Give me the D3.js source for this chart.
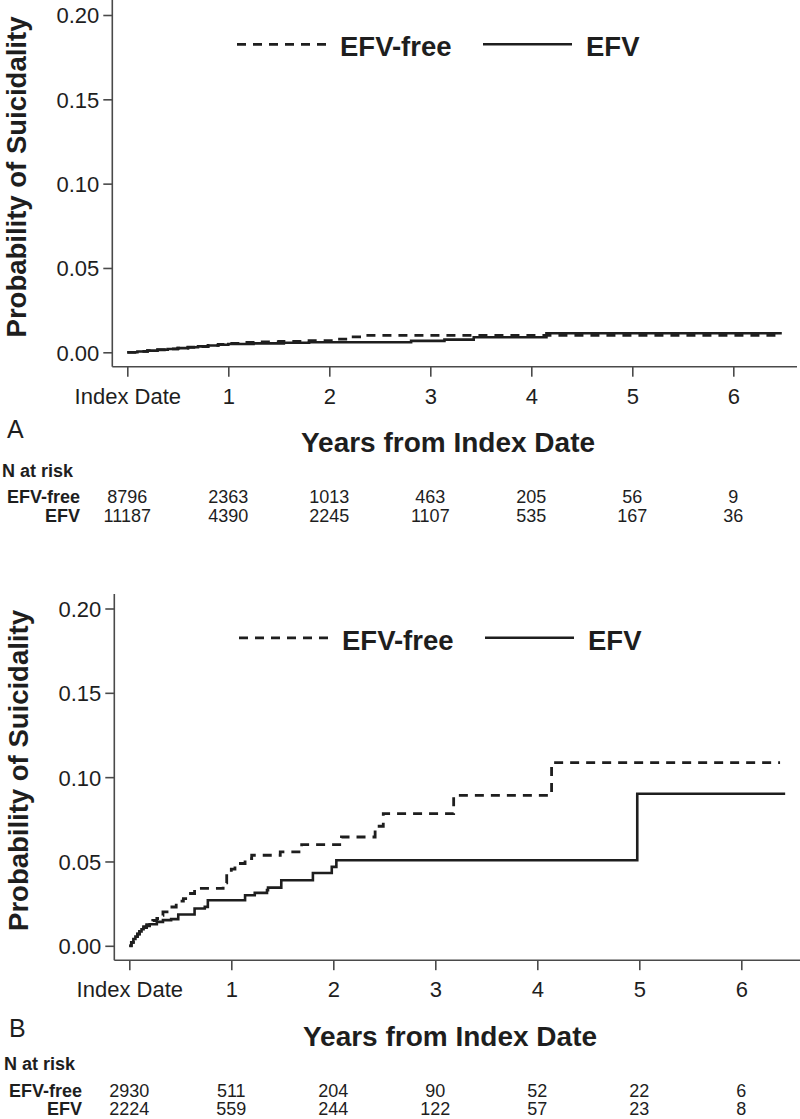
<!DOCTYPE html>
<html>
<head>
<meta charset="utf-8">
<script src="https://cdn.jsdelivr.net/npm/d3@7/dist/d3.min.js"></script>
<style>
  html, body { margin: 0; padding: 0; background: #fff; }
  svg { display: block; font-family: "Liberation Sans", Arial, sans-serif; }
</style>
</head>
<body>
<svg id="chart" width="800" height="1119"></svg>
<script>
// ---------------- data ----------------
const seriesNames = ["EFV-free", "EFV"];
const xTickValues = [0, 1, 2, 3, 4, 5, 6];
const xTickLabels = ["Index Date", "1", "2", "3", "4", "5", "6"];
const yTickValues = [0, 0.05, 0.10, 0.15, 0.20];

// Panel A (Kaplan–Meier cumulative probability, step curves)
const aFreeTime = [0, 0.1, 0.2, 0.3, 0.4, 0.5, 0.6, 0.7, 0.8, 0.9, 1.0, 1.15, 1.3, 1.5, 1.75, 2.05, 2.2, 2.3, 6.48];
const aFreeProb = [0, 0.0005, 0.001, 0.0015, 0.002, 0.0025, 0.003, 0.0034, 0.0041, 0.0047, 0.0053, 0.0058, 0.0062, 0.0065, 0.0069, 0.0078, 0.0092, 0.0100, 0.0100];
const aEfvTime  = [0, 0.1, 0.2, 0.3, 0.4, 0.5, 0.6, 0.7, 0.8, 0.9, 1.0, 1.25, 1.55, 1.8, 2.81, 3.14, 3.43, 4.15, 6.48];
const aEfvProb  = [0, 0.0005, 0.001, 0.0015, 0.002, 0.0025, 0.003, 0.0035, 0.004, 0.0045, 0.0049, 0.0053, 0.0057, 0.006, 0.0068, 0.0075, 0.0089, 0.0113, 0.0113];
const aRiskFree = [8796, 2363, 1013, 463, 205, 56, 9];
const aRiskEfv  = [11187, 4390, 2245, 1107, 535, 167, 36];

// Panel B
const bFreeTime = [0, 0.02, 0.04, 0.06, 0.08, 0.1, 0.12, 0.14, 0.17, 0.2, 0.23, 0.27, 0.3, 0.33, 0.37, 0.4, 0.46, 0.5, 0.53, 0.57, 0.6, 0.64, 0.92, 0.955, 1.0, 1.036, 1.135, 1.2, 1.48, 1.69, 2.08, 2.41, 2.49, 3.18, 4.14, 6.38];
const bFreeProb = [0, 0.002, 0.004, 0.0055, 0.007, 0.0085, 0.0100, 0.0113, 0.0125, 0.014, 0.015, 0.0162, 0.018, 0.0201, 0.0215, 0.023, 0.025, 0.0265, 0.028, 0.0295, 0.031, 0.034, 0.0373, 0.0428, 0.0455, 0.0488, 0.0517, 0.0537, 0.0557, 0.0600, 0.0645, 0.0709, 0.0784, 0.0892, 0.1086, 0.1086];
const bEfvTime  = [0, 0.02, 0.04, 0.06, 0.08, 0.1, 0.12, 0.14, 0.17, 0.2, 0.27, 0.33, 0.41, 0.48, 0.64, 0.74, 0.77, 1.135, 1.23, 1.35, 1.36, 1.49, 1.80, 1.985, 2.03, 4.98, 6.43];
const bEfvProb  = [0, 0.002, 0.004, 0.0055, 0.007, 0.0085, 0.0098, 0.0108, 0.0118, 0.0128, 0.0142, 0.0152, 0.0158, 0.0186, 0.0221, 0.0231, 0.027, 0.030, 0.0314, 0.033, 0.0345, 0.0389, 0.0432, 0.0468, 0.0507, 0.0902, 0.0902];
const bRiskFree = [2930, 511, 204, 90, 52, 22, 6];
const bRiskEfv  = [2224, 559, 244, 122, 57, 23, 8];

// ---------------- drawing ----------------
const svg = d3.select("#chart");
svg.append("rect").attr("width", 800).attr("height", 1119).attr("fill", "#fff");

const ink = "#1e1e1e";
const axisCol = "#4a4a4a";

function toPts(ts, vs) { return ts.map((t, i) => ({ t: t, v: vs[i] })); }

function drawPanel(cfg) {
  const g = svg.append("g").attr("transform", `translate(${cfg.dx},${cfg.dy})`);
  const x = d3.scaleLinear().domain([0, 6]).range([127.3, 733.3 + cfg.xStretch]);
  const y = d3.scaleLinear().domain([0, 0.20]).range([352.3, 15]);
  const axisY = 366.7, axisX = 112.3;

  // axes lines
  g.append("line").attr("x1", axisX).attr("x2", axisX).attr("y1", cfg.yTop).attr("y2", axisY)
    .attr("stroke", axisCol).attr("stroke-width", 1.6);
  g.append("line").attr("x1", axisX).attr("x2", cfg.xEnd).attr("y1", axisY).attr("y2", axisY)
    .attr("stroke", axisCol).attr("stroke-width", 1.6);

  // y axis
  const yAxis = d3.axisLeft(y).tickValues(yTickValues).tickFormat(d3.format(".2f")).tickSize(9).tickPadding(4);
  const gy = g.append("g").attr("transform", `translate(${axisX},0)`).call(yAxis);
  gy.select(".domain").remove();
  gy.selectAll(".tick line").attr("stroke", axisCol).attr("stroke-width", 1.6);
  gy.selectAll(".tick text").attr("fill", ink).style("font-size", "22px").attr("dy", "0.36em");

  // x axis
  const xAxis = d3.axisBottom(x).tickValues(xTickValues).tickFormat((d, i) => xTickLabels[i]).tickSize(10).tickPadding(8);
  const gx = g.append("g").attr("transform", `translate(0,${axisY})`).call(xAxis);
  gx.select(".domain").remove();
  gx.selectAll(".tick line").attr("stroke", axisCol).attr("stroke-width", 1.6);
  gx.selectAll(".tick text").attr("fill", ink).style("font-size", "22px").attr("y", 37.3).attr("dy", 0);

  // curves
  const line = d3.line().x(d => x(d.t)).y(d => y(d.v)).curve(d3.curveStepAfter);
  g.append("path").datum(toPts(cfg.freeT, cfg.freeV)).attr("d", line)
    .attr("fill", "none").attr("stroke", ink).attr("stroke-width", 2.8).attr("stroke-dasharray", "9,7");
  g.append("path").datum(toPts(cfg.efvT, cfg.efvV)).attr("d", line)
    .attr("fill", "none").attr("stroke", ink).attr("stroke-width", 2.6);

  // legend
  const ly = 44.3;
  g.append("line").attr("x1", 237).attr("x2", 326).attr("y1", ly).attr("y2", ly)
    .attr("stroke", ink).attr("stroke-width", 2.8).attr("stroke-dasharray", "9,7");
  g.append("text").attr("x", 340).attr("y", 56).text(seriesNames[0])
    .attr("fill", ink).style("font-size", "27.5px").style("font-weight", "bold");
  g.append("line").attr("x1", 483).attr("x2", 572).attr("y1", ly).attr("y2", ly)
    .attr("stroke", ink).attr("stroke-width", 2.6);
  g.append("text").attr("x", 586).attr("y", 56).text(seriesNames[1])
    .attr("fill", ink).style("font-size", "27.5px").style("font-weight", "bold");

  // y title
  g.append("text").attr("transform", "translate(25.5,177) rotate(-90)").attr("text-anchor", "middle")
    .text("Probability of Suicidality").attr("fill", ink).style("font-size", "27.5px").style("font-weight", "bold");

  // panel letter
  g.append("text").attr("x", 7).attr("y", cfg.letterY).text(cfg.letter)
    .attr("fill", ink).style("font-size", "25px");

  // x title
  g.append("text").attr("x", 448).attr("y", 452).attr("text-anchor", "middle").text("Years from Index Date")
    .attr("fill", ink).style("font-size", "28px").style("font-weight", "bold");

  // risk table
  g.append("text").attr("x", 2).attr("y", 476.7).text("N at risk")
    .attr("fill", ink).style("font-size", "18px").style("font-weight", "bold");
  const rows = [{ name: seriesNames[0], vals: cfg.riskFree, yy: 503.3 }, { name: seriesNames[1], vals: cfg.riskEfv, yy: 521.7 }];
  rows.forEach(r => {
    g.append("text").attr("x", 80).attr("y", r.yy).attr("text-anchor", "end").text(r.name)
      .attr("fill", ink).style("font-size", "18px").style("font-weight", "bold");
    g.selectAll(null).data(r.vals).enter().append("text")
      .attr("x", (d, i) => x(xTickValues[i])).attr("y", r.yy).attr("text-anchor", "middle")
      .text(d => d).attr("fill", ink).style("font-size", "18px");
  });
}

drawPanel({ dx: 0, dy: 0, xStretch: 0, yTop: -5, xEnd: 797, letter: "A", letterY: 437.7,
  freeT: aFreeTime, freeV: aFreeProb, efvT: aEfvTime, efvV: aEfvProb, riskFree: aRiskFree, riskEfv: aRiskEfv });
drawPanel({ dx: 2, dy: 593.5, xStretch: 6, yTop: 0.5, xEnd: 800, letter: "B", letterY: 443,
  freeT: bFreeTime, freeV: bFreeProb, efvT: bEfvTime, efvV: bEfvProb, riskFree: bRiskFree, riskEfv: bRiskEfv });
</script>
</body>
</html>
